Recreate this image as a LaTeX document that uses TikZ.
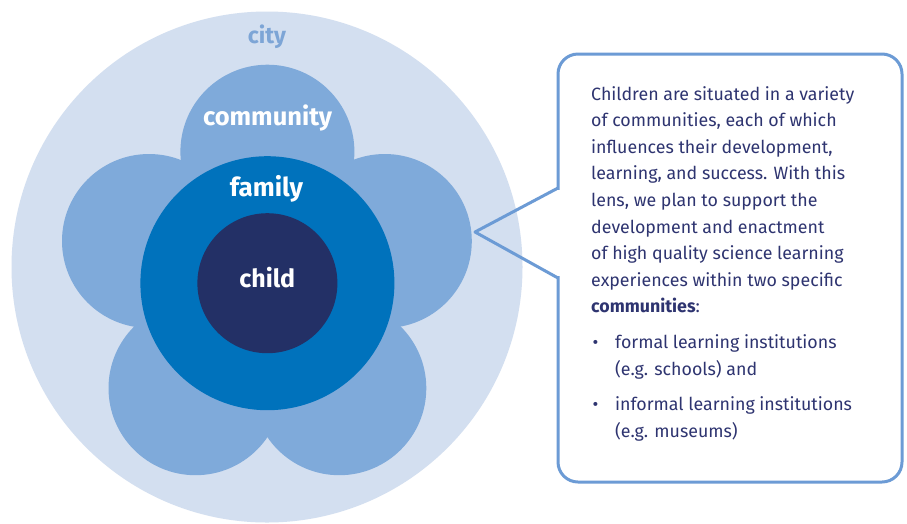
\documentclass[tikz,border=0pt]{standalone}
\usepackage{fontspec}
\setmainfont{Fira Sans}
\definecolor{citycol}{RGB}{211,223,240}
\definecolor{citytext}{RGB}{125,165,214}
\definecolor{petalcol}{RGB}{127,170,218}
\definecolor{familycol}{RGB}{0,114,188}
\definecolor{childcol}{RGB}{35,48,102}
\definecolor{boxline}{RGB}{108,155,213}
\definecolor{bodytext}{RGB}{46,52,112}
\begin{document}
\begin{tikzpicture}[x=1pt,y=-1pt,
  disc/.style={circle,inner sep=0pt,draw=none},
  petal/.style={disc,fill=petalcol,minimum size=174pt},
  lbl/.style={text=white,font=\bfseries\fontsize{26}{30}\selectfont,inner sep=0pt,anchor=base},
  body/.style={text=bodytext,font=\fontsize{17.8}{22}\selectfont,inner sep=0pt,anchor=base west},
  callout/.style={draw=boxline,line width=3pt,line join=round}]
\useasboundingbox (0,0) rectangle (907,523);
\fill[white] (0,0) rectangle (907,523);
% city
\node[disc,fill=citycol,minimum size=511pt] (city) at (267,267) {};
% community petals
\node[petal] (p1) at (267.4,151.7) {};
\node[petal] (p2) at (149,241) {};
\node[petal] (p3) at (384.8,241) {};
\node[petal] (p4) at (195.5,388.2) {};
\node[petal] (p5) at (339.3,388.2) {};
% family and child
\node[disc,fill=familycol,minimum size=254pt] (family) at (267.4,283.2) {};
\node[disc,fill=childcol,minimum size=140pt] (child) at (267.4,283.2) {};
% labels
\node[lbl,text=citytext,font=\bfseries\fontsize{23}{28}\selectfont] (tcity) at (267,43) {city};
\node[lbl,font=\bfseries\fontsize{25.5}{30}\selectfont] (tcomm) at (267.6,125) {community};
\node[lbl] (tfam) at (266.5,196) {family};
\node[lbl,font=\bfseries\fontsize{25}{30}\selectfont] (tchild) at (267.3,287) {child};
% callout box
\draw[callout,rounded corners=20pt] (558,54) rectangle (902,482);
\fill[white] (555,189.6) rectangle (561,276.4);
\coordinate (tip) at (475,232);
\coordinate (jt) at (558,188);
\coordinate (jb) at (558,278);
\draw[callout] (jt) -- (tip) -- (jb);
% text
\node[body] (l1) at (591,100) {Children are situated in a variety};
\node[body] (l2) at (591,126.6) {of communities, each of which};
\node[body] (l3) at (591,153.2) {influences their development,};
\node[body] (l4) at (591,179.8) {learning, and success. With this};
\node[body] (l5) at (591,206.4) {lens, we plan to support the};
\node[body] (l6) at (591,233) {development and enactment};
\node[body] (l7) at (591,259.6) {of high quality science learning};
\node[body] (l8) at (591,286.2) {experiences within two specific};
\node[body] (l9) at (591,312.8) {\textbf{communities}:};
\node[body] (b1) at (592.5,348) {•};
\node[body] (l10) at (615,348) {formal learning institutions};
\node[body] (l11) at (615,375) {(e.g. schools) and};
\node[body] (b2) at (592.5,410) {•};
\node[body] (l12) at (615,410) {informal learning institutions};
\node[body] (l13) at (615,437) {(e.g. museums)};
\end{tikzpicture}
\end{document}
